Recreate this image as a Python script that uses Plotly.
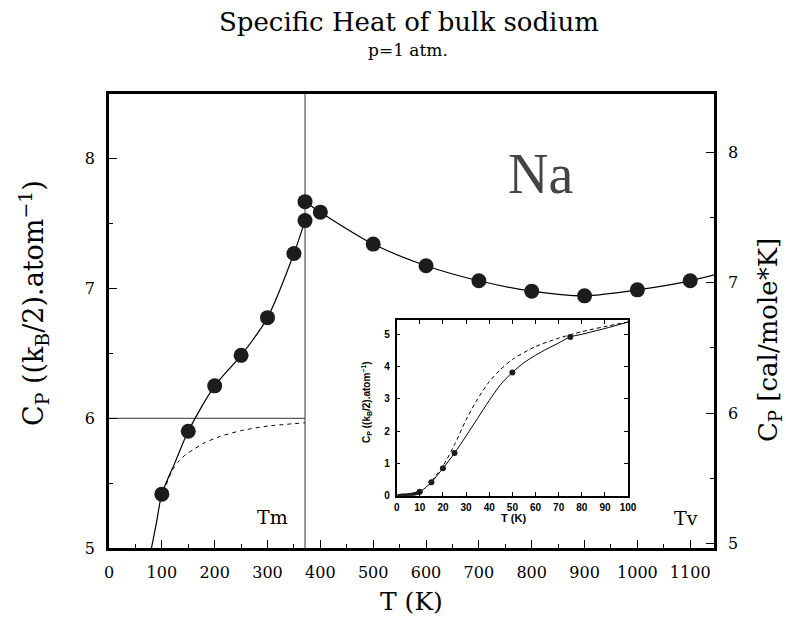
import plotly.graph_objects as go

# ---------------- main chart data ----------------
T_pts = [100, 150, 200, 250, 300, 350, 371, 371, 400, 500, 600, 700, 800, 900, 1000, 1100]
Cp_pts = [5.415, 5.90, 6.25, 6.485, 6.776, 7.27, 7.524, 7.67, 7.589, 7.343, 7.176, 7.06, 6.98, 6.944, 6.99, 7.06]

T_solid = [78, 90, 100, 125, 150, 200, 250, 300, 350, 371]
Cp_solid = [4.95, 5.20, 5.415, 5.66, 5.90, 6.25, 6.485, 6.776, 7.27, 7.524]

T_liquid = [371, 400, 500, 600, 700, 800, 900, 1000, 1100, 1150]
Cp_liquid = [7.67, 7.589, 7.343, 7.176, 7.06, 6.98, 6.944, 6.99, 7.06, 7.11]

T_classic = [104, 112, 120, 130, 145, 160, 180, 210, 250, 300, 371]
Cp_classic = [5.43, 5.53, 5.60, 5.66, 5.72, 5.76, 5.81, 5.86, 5.905, 5.94, 5.965]

T_melt = 371
Cp_dulong = 6
x_ticks = [0, 100, 200, 300, 400, 500, 600, 700, 800, 900, 1000, 1100]
y_ticks = [5, 6, 7, 8]
cal_factor = 0.9935  # (kB/2 per atom) -> cal/(mole K)

# ---------------- inset data ----------------
Ti_big = [10, 15, 20, 25, 50, 75]
Cpi_big = [0.12, 0.42, 0.85, 1.32, 3.82, 4.92]
Ti_small = [1, 2, 3, 4, 5, 6, 7, 8, 9]
Cpi_small = [0.002, 0.005, 0.01, 0.015, 0.02, 0.03, 0.045, 0.06, 0.085]
Ti_line = [0, 5, 10, 15, 20, 25, 30, 35, 40, 45, 50, 55, 60, 65, 70, 75, 80, 90, 100]
Cpi_line = [0, 0.02, 0.12, 0.42, 0.85, 1.32, 1.85, 2.40, 2.95, 3.45, 3.82, 4.12, 4.35, 4.55, 4.73, 4.92, 5.0, 5.18, 5.38]
Ti_dash = [15, 20, 25, 30, 35, 40, 45, 50, 60, 70, 80, 90, 100]
Cpi_dash = [0.45, 0.92, 1.58, 2.35, 3.0, 3.53, 3.92, 4.22, 4.62, 4.88, 5.08, 5.24, 5.38]
xi_ticks = [0, 10, 20, 30, 40, 50, 60, 70, 80, 90, 100]
yi_ticks = [0, 1, 2, 3, 4, 5]

SERIF = "DejaVu Serif"
SANS = "Liberation Sans"

fig = go.Figure()

# main curves
fig.add_trace(go.Scatter(x=T_solid, y=Cp_solid, mode="lines",
                         line=dict(color="black", width=1.2, shape="spline", smoothing=0.8),
                         xaxis="x", yaxis="y", showlegend=False, hoverinfo="skip"))
fig.add_trace(go.Scatter(x=T_liquid, y=Cp_liquid, mode="lines",
                         line=dict(color="black", width=1.2, shape="spline", smoothing=0.8),
                         xaxis="x", yaxis="y", showlegend=False, hoverinfo="skip"))
fig.add_trace(go.Scatter(x=T_classic, y=Cp_classic, mode="lines",
                         line=dict(color="black", width=1, dash="4px,4px", shape="spline", smoothing=0.6),
                         xaxis="x", yaxis="y", showlegend=False, hoverinfo="skip"))
fig.add_trace(go.Scatter(x=T_pts, y=Cp_pts, mode="markers",
                         marker=dict(color="#1c1c1c", size=15, line=dict(width=0)),
                         xaxis="x", yaxis="y", showlegend=False))
# invisible trace to activate right axis
fig.add_trace(go.Scatter(x=[T_pts[0]], y=[Cp_pts[0] * cal_factor], mode="markers",
                         marker=dict(opacity=0), xaxis="x", yaxis="y2",
                         showlegend=False, hoverinfo="skip"))

# inset curves
fig.add_trace(go.Scatter(x=Ti_line, y=Cpi_line, mode="lines",
                         line=dict(color="black", width=1, shape="spline", smoothing=0.8),
                         xaxis="x3", yaxis="y3", showlegend=False, hoverinfo="skip"))
fig.add_trace(go.Scatter(x=Ti_dash, y=Cpi_dash, mode="lines",
                         line=dict(color="black", width=1, dash="4px,3px", shape="spline", smoothing=0.8),
                         xaxis="x3", yaxis="y3", showlegend=False, hoverinfo="skip"))
fig.add_trace(go.Scatter(x=Ti_small, y=Cpi_small, mode="markers",
                         marker=dict(color="#1c1c1c", size=4),
                         xaxis="x3", yaxis="y3", showlegend=False))
fig.add_trace(go.Scatter(x=Ti_big, y=Cpi_big, mode="markers",
                         marker=dict(color="#1c1c1c", size=6),
                         xaxis="x3", yaxis="y3", showlegend=False))

# reference lines (melting point, Dulong-Petit)
fig.add_shape(type="line", xref="x", yref="y", x0=T_melt, x1=T_melt, y0=5, y1=8.5,
              line=dict(color="#333333", width=1), layer="below")
fig.add_shape(type="line", xref="x", yref="y", x0=0, x1=T_melt, y0=Cp_dulong, y1=Cp_dulong,
              line=dict(color="#333333", width=1), layer="below")

tickfont_main = dict(family=SERIF, size=16, color="black")
tickfont_in = dict(family=SANS, size=10, color="black", weight="bold")

fig.update_layout(
    width=786, height=617,
    margin=dict(l=109, r=72, t=94, b=69),
    paper_bgcolor="white", plot_bgcolor="white",
    xaxis=dict(domain=[0, 1], range=[0, 1145], tickvals=x_ticks, ticks="inside", ticklen=8,
               tickwidth=1.3, tickcolor="black",
               minor=dict(dtick=50, tick0=0, ticks="inside", ticklen=4, tickwidth=1, tickcolor="black"),
               showline=True, linewidth=2.5, linecolor="black", mirror=True,
               showgrid=False, zeroline=False, tickfont=tickfont_main, ticklabelstandoff=8),
    yaxis=dict(domain=[0, 1], range=[5, 8.5], tickvals=y_ticks, ticks="inside", ticklen=8,
               tickwidth=1.3, tickcolor="black",
               minor=dict(dtick=0.5, tick0=5, ticks="inside", ticklen=4, tickwidth=1, tickcolor="black"),
               showline=True, linewidth=2.5, linecolor="black", mirror=False,
               showgrid=False, zeroline=False, tickfont=tickfont_main, ticklabelstandoff=8),
    yaxis2=dict(overlaying="y", side="right", anchor="x",
                range=[5 * cal_factor, 8.5 * cal_factor], tickvals=y_ticks, ticks="inside",
                ticklen=8, tickwidth=1.3, tickcolor="black",
                minor=dict(dtick=0.5, tick0=5, ticks="inside", ticklen=4, tickwidth=1, tickcolor="black"),
                showline=True, linewidth=2.5, linecolor="black",
                showgrid=False, zeroline=False, tickfont=tickfont_main, ticklabelstandoff=8),
    xaxis3=dict(domain=[0.4755, 0.858], anchor="y3", range=[0, 100], tickvals=xi_ticks,
                ticks="inside", ticklen=4, tickwidth=1, tickcolor="black",
                showline=True, linewidth=1.5, linecolor="black", mirror="ticks",
                showgrid=False, zeroline=False, tickfont=tickfont_in, ticklabelstandoff=2),
    yaxis3=dict(domain=[0.1152, 0.502], anchor="x3", range=[0, 5.44], tickvals=yi_ticks,
                ticks="inside", ticklen=4, tickwidth=1, tickcolor="black",
                showline=True, linewidth=1.5, linecolor="black", mirror="ticks",
                showgrid=False, zeroline=False, tickfont=tickfont_in, ticklabelstandoff=3),
)

ann = [
    dict(text="Specific Heat of bulk sodium", x=0.496, y=1.1575, font=dict(family=SERIF, size=26)),
    dict(text="p=1 atm.", x=0.495, y=1.098, font=dict(family=SERIF, size=17)),
    dict(text="T (K)", x=0.5008, y=-0.117, font=dict(family=SERIF, size=25)),
    dict(text="C<sub>P</sub> ((k<sub>B</sub>/2).atom<sup>−1</sup>)", x=-0.1256, y=0.5396,
         textangle=-90, font=dict(family=SERIF, size=27)),
    dict(text="C<sub>P</sub> [cal/mole*K]", x=1.0909, y=0.458, textangle=-90,
         font=dict(family=SERIF, size=26)),
    dict(text="Na", x=0.714, y=0.8238, font=dict(family="Liberation Serif", size=56, color="#444444")),
    dict(text="Tm", x=0.2702, y=0.0683, font=dict(family=SERIF, size=19)),
    dict(text="Tv", x=0.9537, y=0.0661, font=dict(family=SERIF, size=19)),
    dict(text="T (K)", x=0.6678, y=0.0661, font=dict(family=SANS, size=11, weight="bold")),
    dict(text="C<sub>P</sub> ((k<sub>B</sub>/2).atom<sup>−1</sup>)", x=0.4264, y=0.3216,
         textangle=-90, font=dict(family=SANS, size=10, weight="bold")),
]
for a in ann:
    a.setdefault("font", {})
    a["font"].setdefault("color", "black")
    fig.add_annotation(xref="paper", yref="paper", showarrow=False,
                       xanchor="center", yanchor="middle", **a)

fig.write_html("out.html")
